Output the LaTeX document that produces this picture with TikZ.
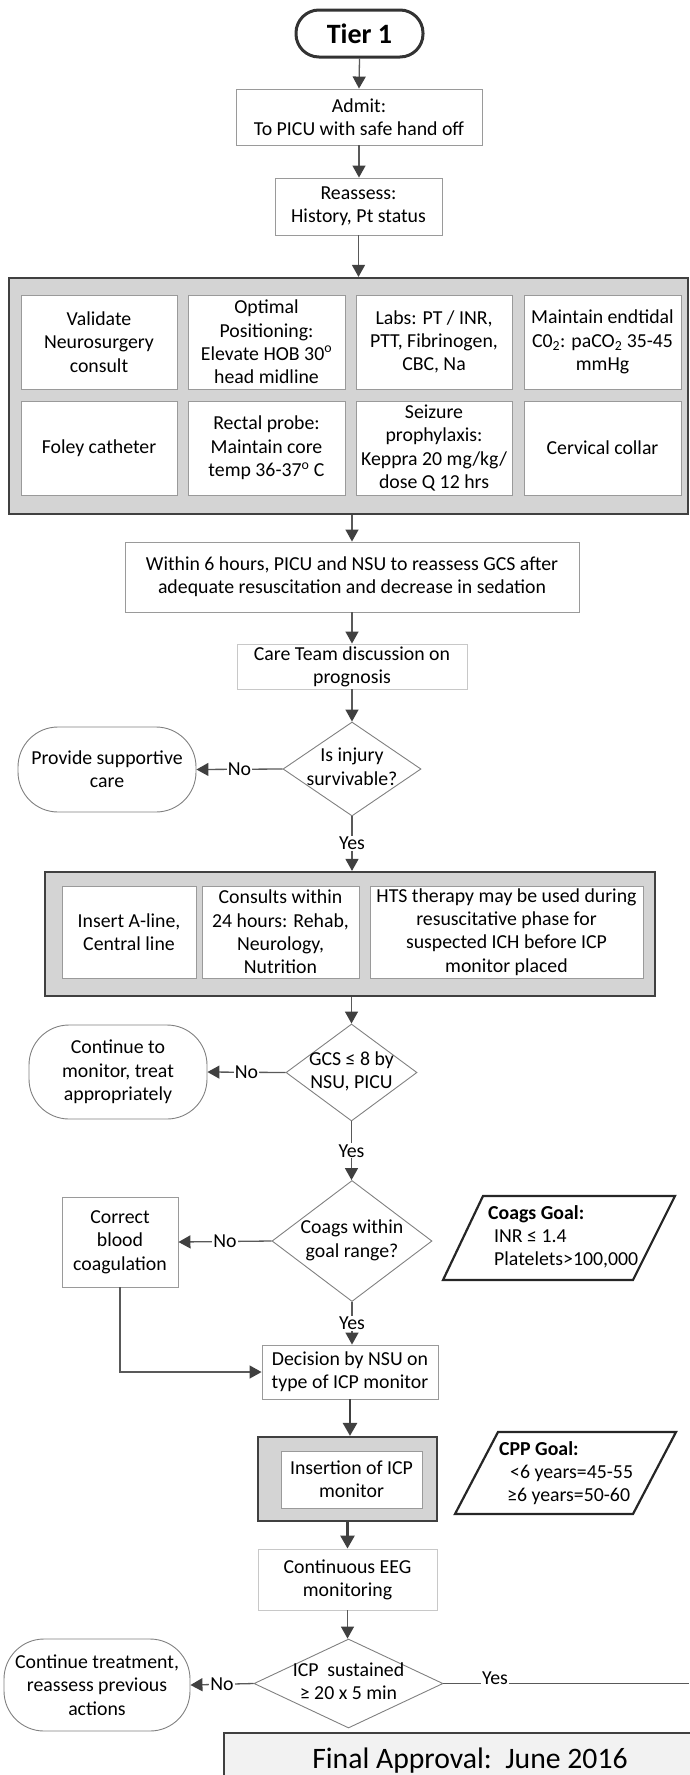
\documentclass[tikz,border=0pt]{standalone}
\usepackage{fontspec}
\setmainfont{Carlito}
\usetikzlibrary{arrows.meta,shapes.geometric}
\definecolor{ln}{HTML}{595959}
\definecolor{ah}{HTML}{404040}
\definecolor{gfill}{HTML}{D4D4D4}
\definecolor{gbord}{HTML}{404040}
\definecolor{bbord}{HTML}{9A9A9A}
\definecolor{lbord}{HTML}{C8C8C8}
\definecolor{sbord}{HTML}{808080}
\definecolor{ffill}{HTML}{F2F2F2}
\newcommand{\dtxt}[1]{\smash{\makebox[0pt]{\raisebox{-5pt}{\begin{tabular}{@{}c@{}}#1\end{tabular}}}}}
\begin{document}
\begin{tikzpicture}[x=1pt,y=-1pt,
  font=\fontsize{19.8}{23.3}\selectfont,
  box/.style={draw=bbord,line width=0.9pt,fill=white,inner sep=0pt,align=center},
  ibox/.style={draw=bbord,line width=0.9pt,fill=white,inner sep=0pt,align=center},
  gbox/.style={draw=gbord,line width=2.2pt,fill=gfill,inner sep=0pt},
  stad/.style={draw=sbord,line width=0.9pt,rounded corners=40pt,inner sep=0pt,align=center},
  dia/.style={draw=sbord,line width=0.9pt,shape=diamond,inner sep=0pt},
  para/.style={draw=black!85,line width=2.2pt,line join=miter},
  arr/.style={draw=ln,line width=1.3pt,-{Triangle[width=13pt,length=12pt,color=ah]}},
  tarr/.style={draw=ah,line width=2.6pt,-{Triangle[width=14pt,length=13pt,color=ah]}},
  lbl/.style={fill=white,inner sep=1pt},
]
\useasboundingbox (0,0) rectangle (689,1775);

% top chain
\node[draw=black!80,line width=3pt,rounded corners=23pt,minimum width=127,minimum height=47,inner sep=0pt,
      font=\fontsize{28}{32}\selectfont\bfseries] (tier) at (359.5,33.5) {Tier 1};
\node[box,minimum width=246,minimum height=56] (admit) at (359,117) {Admit:\\To PICU with safe hand off};
\node[box,minimum width=167,minimum height=57] (reass) at (358.5,206.5) {Reassess:\\History, Pt status};

% gray box 1
\node[gbox,minimum width=679,minimum height=236] (g1) at (348.5,396) {};
\node[ibox,minimum width=156,minimum height=94] (b11) at (99,342) {Validate\\Neurosurgery\\consult};
\node[ibox,minimum width=157,minimum height=94] (b12) at (266.5,342) {Optimal\\Positioning:\\Elevate HOB 30\textsuperscript{o}\\head midline};
\node[ibox,minimum width=156,minimum height=94] (b13) at (434,342) {Labs: PT / INR,\\PTT, Fibrinogen,\\CBC, Na};
\node[ibox,minimum width=157,minimum height=94] (b14) at (602.5,342) {Maintain endtidal\\C0\textsubscript{2}: paCO\textsubscript{2} 35-45\\mmHg};
\node[ibox,minimum width=156,minimum height=94] (b21) at (99,448) {Foley catheter};
\node[ibox,minimum width=157,minimum height=94] (b22) at (266.5,448) {Rectal probe:\\Maintain core\\temp 36-37\textsuperscript{o} C};
\node[ibox,minimum width=156,minimum height=94] (b23) at (434,448) {Seizure\\prophylaxis:\\Keppra 20 mg/kg/\\dose Q 12 hrs};
\node[ibox,minimum width=157,minimum height=94] (b24) at (602.5,448) {Cervical collar};

\node[box,minimum width=454,minimum height=70] (within) at (352,577) {Within 6 hours, PICU and NSU to reassess GCS after\\adequate resuscitation and decrease in sedation};
\node[draw=lbord,line width=0.9pt,fill=white,inner sep=0pt,align=center,minimum width=230,minimum height=45] (care) at (352,666.5) {Care Team discussion on\\prognosis};

\node[dia,minimum width=138,minimum height=94] (d1) at (352,769) {\dtxt{Is injury\\survivable?}};
\node[stad,minimum width=178,minimum height=85] (sup) at (107,769.5) {Provide supportive\\care};

% gray box 2
\node[gbox,minimum width=610,minimum height=124] (g2) at (350,934) {};
\node[ibox,minimum width=134,minimum height=92] (c1) at (129,932) {Insert A-line,\\Central line};
\node[ibox,minimum width=157,minimum height=92] (c2) at (280.5,932) {Consults within\\24 hours: Rehab,\\Neurology,\\Nutrition};
\node[ibox,minimum width=273,minimum height=92] (c3) at (506.5,932) {HTS therapy may be used during\\resuscitative phase for\\suspected ICH before ICP\\monitor placed};

\node[dia,minimum width=131,minimum height=97] (d2) at (351.5,1072.5) {\dtxt{GCS ≤ 8 by\\NSU, PICU}};
\node[stad,minimum width=178,minimum height=94] (mon) at (118,1072) {Continue to\\monitor, treat\\appropriately};

\node[dia,minimum width=160,minimum height=121] (d3) at (352,1241) {\dtxt{Coags within\\goal range?}};
\node[box,minimum width=116,minimum height=90] (corr) at (120,1242) {Correct\\blood\\coagulation};

\draw[para] (483,1196) -- (675,1196) -- (633,1280) -- (443,1280) -- cycle;
\node[anchor=west,inner sep=0pt,align=left] (coags) at (488,1237) {\textbf{Coags Goal:}\\\hspace*{6pt}INR ≤ 1.4\\\hspace*{6pt}Platelets>100,000};

\node[box,minimum width=176,minimum height=54] (dec) at (350,1372) {Decision by NSU on\\type of ICP monitor};

% gray box 3
\node[gbox,minimum width=179,minimum height=84] (g3) at (347.5,1479) {};
\node[ibox,minimum width=141,minimum height=57] (ins) at (351.5,1479.5) {Insertion of ICP\\monitor};

\draw[para] (498,1432) -- (676,1432) -- (633,1514) -- (455,1514) -- cycle;
\node[anchor=west,inner sep=0pt,align=left] (cpp) at (499,1473) {\textbf{CPP Goal:}\\\hspace*{11pt}<6 years=45-55\\\hspace*{8pt}≥6 years=50-60};

\node[draw=lbord,line width=0.9pt,fill=white,inner sep=0pt,align=center,minimum width=179,minimum height=61] (eeg) at (347.5,1579.5) {Continuous EEG\\monitoring};

\node[dia,minimum width=189,minimum height=89] (d4) at (348.5,1683.5) {\dtxt{ICP~ sustained\\≥ 20 x 5 min}};
\node[stad,minimum width=186,minimum height=92] (cont) at (97,1685) {Continue treatment,\\reassess previous\\actions};

\node[draw=gbord,line width=2.4pt,fill=ffill,inner sep=0pt,minimum width=492,minimum height=56,
      font=\fontsize{29.7}{34}\selectfont] (final) at (470,1761) {Final Approval:\ \ June 2016};

\coordinate (yesend) at (689,1683.5);

% connectors
\draw[arr] (tier.south) -- (admit.north);
\draw[arr] (admit.south) -- (admit.south |- reass.north);
\draw[arr] (reass.south) -- (reass.south |- g1.north);
\draw[arr] (within.north |- g1.south) -- (within.north);
\draw[arr] (within.south) -- (care.north);
\draw[arr] (care.south) -- (d1.north);
\draw[arr] (d1.west) -- node[lbl]{No} (sup.east);
\draw[arr] (d1.south) -- node[lbl]{Yes} (d1.south |- g2.north);
\draw[arr] (d2.north |- g2.south) -- (d2.north);
\draw[arr] (d2.west) -- node[lbl]{No} (mon.east);
\draw[arr] (d2.south) -- node[lbl]{Yes} (d2.south |- d3.north);
\draw[arr] (d3.west) -- node[lbl]{No} (corr.east);
\draw[arr] (d3.south) -- node[lbl]{Yes} (d3.south |- dec.north);
\draw[arr] (corr.south) |- (dec.west);
\draw[tarr] (dec.south) -- (dec.south |- g3.north);
\draw[tarr] (g3.south) -- (eeg.north);
\draw[arr] (eeg.south) -- (eeg.south |- d4.north);
\draw[arr] (d4.west) -- node[lbl]{No} (cont.east);
\draw[draw=ln,line width=1.3pt] (d4.east) -- node[pos=0.21,lbl,yshift=5pt]{Yes} (yesend);
\end{tikzpicture}
\end{document}
